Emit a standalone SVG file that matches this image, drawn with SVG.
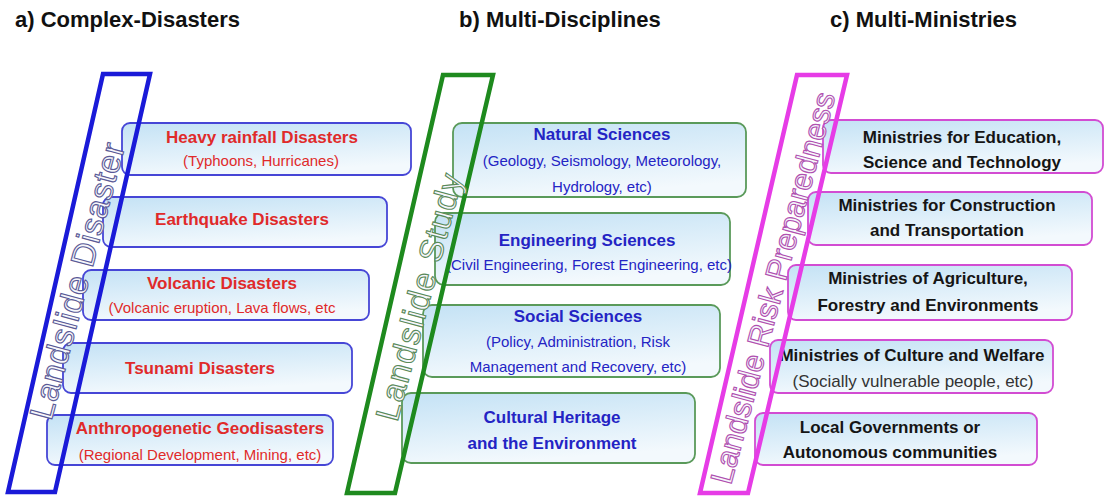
<svg xmlns="http://www.w3.org/2000/svg" width="1104" height="502" viewBox="0 0 1104 502">
<defs>
<linearGradient id="bg" x1="0" y1="0" x2="0.3" y2="1">
<stop offset="0" stop-color="#c4e2f5"/>
<stop offset="1" stop-color="#f3f9fd"/>
</linearGradient>
</defs>
<style>
.title{font-family:"Liberation Sans",Arial,sans-serif;font-weight:bold;font-size:22px;fill:#111}
.box{fill:url(#bg);stroke-width:1.8}
.ba{stroke:#4646d6}
.bb{stroke:#5a9a5a}
.bc{stroke:#d24cd2}
.t{font-family:"Liberation Sans",Arial,sans-serif;text-anchor:middle}
.h{font-weight:bold;font-size:17px}
.s{font-size:15px}
.ra{fill:#e02a2a}
.rb{fill:#2424c4}
.rc{fill:#151515}
.sc{fill:#333;font-size:17px}
.para{fill:none;stroke-width:4.5;stroke-linejoin:miter}
.vt{font-family:"Liberation Sans",Arial,sans-serif;font-size:33px;text-anchor:middle;dominant-baseline:central;fill:#f6f6fb;stroke-width:1.1}
</style>
<text class="title" x="15" y="27">a) Complex-Disasters</text>
<text class="title" x="459" y="27">b) Multi-Disciplines</text>
<text class="title" x="830" y="27">c) Multi-Ministries</text>

<g id="panel-a-boxes">
<g id="a1"><rect class="box ba" x="122" y="123" width="289" height="52" rx="8"/>
<text class="t h ra" x="262" y="143">Heavy rainfall Disasters</text>
<text class="t s ra" x="261" y="166">(Typhoons, Hurricanes)</text></g>
<g id="a2"><rect class="box ba" x="103" y="197" width="284" height="50" rx="8"/>
<text class="t h ra" x="242" y="225">Earthquake Disasters</text></g>
<g id="a3"><rect class="box ba" x="83" y="270" width="286" height="50" rx="8"/>
<text class="t h ra" x="222" y="289">Volcanic Disasters</text>
<text class="t s ra" x="222" y="313">(Volcanic eruption, Lava flows, etc</text></g>
<g id="a4"><rect class="box ba" x="63" y="343" width="289" height="50" rx="8"/>
<text class="t h ra" x="200" y="374">Tsunami Disasters</text></g>
<g id="a5"><rect class="box ba" x="47" y="415" width="286" height="50" rx="8"/>
<text class="t h ra" x="200" y="434">Anthropogenetic Geodisasters</text>
<text class="t s ra" x="200" y="460">(Regional Development, Mining, etc)</text></g>
</g>
<g id="panel-a-frame">
<polygon class="para" stroke="#1a1ad8" points="103,74 150,74 55,492 8,492"/>
<text class="vt" stroke="#5a5a96" textLength="285" transform="translate(77,281) rotate(-75)">Landslide Disaster</text>
</g>

<g id="panel-b-boxes">
<g id="b1"><rect class="box bb" x="453" y="123" width="293" height="74" rx="9"/>
<text class="t h rb" x="602" y="140">Natural Sciences</text>
<text class="t s rb" x="602" y="166">(Geology, Seismology, Meteorology,</text>
<text class="t s rb" x="602" y="192">Hydrology, etc)</text></g>
<g id="b2"><rect class="box bb" x="435" y="213" width="295" height="72" rx="9"/>
<text class="t h rb" x="587" y="246">Engineering Sciences</text>
<text class="t s rb" x="589" y="270">(Civil Engineering, Forest Engineering, etc)</text></g>
<g id="b3"><rect class="box bb" x="423" y="305" width="297" height="72" rx="9"/>
<text class="t h rb" x="578" y="322">Social Sciences</text>
<text class="t s rb" x="578" y="347">(Policy, Administration, Risk</text>
<text class="t s rb" x="578" y="372">Management and Recovery, etc)</text></g>
<g id="b4"><rect class="box bb" x="402" y="393" width="293" height="70" rx="9"/>
<text class="t h rb" x="552" y="423">Cultural Heritage</text>
<text class="t h rb" x="552" y="449">and the Environment</text></g>
</g>
<g id="panel-b-frame">
<polygon class="para" stroke="#1e8a1e" points="443,75 493,75 395,493 347,493"/>
<text class="vt" stroke="#5a8a5a" textLength="254" transform="translate(419,297) rotate(-75)">Landslide Study</text>
</g>

<g id="panel-c-boxes">
<g id="c1"><rect class="box bc" x="823" y="120" width="280" height="53" rx="8"/>
<text class="t h rc" x="962" y="143">Ministries for Education,</text>
<text class="t h rc" x="962" y="168">Science and Technology</text></g>
<g id="c2"><rect class="box bc" x="808" y="192" width="284" height="53" rx="8"/>
<text class="t h rc" x="947" y="211">Ministries for Construction</text>
<text class="t h rc" x="947" y="236">and Transportation</text></g>
<g id="c3"><rect class="box bc" x="788" y="265" width="284" height="55" rx="8"/>
<text class="t h rc" x="928" y="284">Ministries of Agriculture,</text>
<text class="t h rc" x="928" y="311">Forestry and Environments</text></g>
<g id="c4"><rect class="box bc" x="770" y="340" width="283" height="53" rx="8"/>
<text class="t h rc" x="912" y="361">Ministries of Culture and Welfare</text>
<text class="t sc" x="913" y="387">(Socially vulnerable people, etc)</text></g>
<g id="c5"><rect class="box bc" x="755" y="413" width="282" height="52" rx="8"/>
<text class="t h rc" x="890" y="433">Local Governments or</text>
<text class="t h rc" x="890" y="458">Autonomous communities</text></g>
</g>
<g id="panel-c-frame">
<polygon class="para" stroke="#e63ce6" points="797,75 847,75 748,493 700,493"/>
<text class="vt" stroke="#b050b0" style="font-size:31px" textLength="404" transform="translate(773,288) rotate(-75)">Landslide Risk Preparedness</text>
</g>
<g id="connectors"/>
</svg>
